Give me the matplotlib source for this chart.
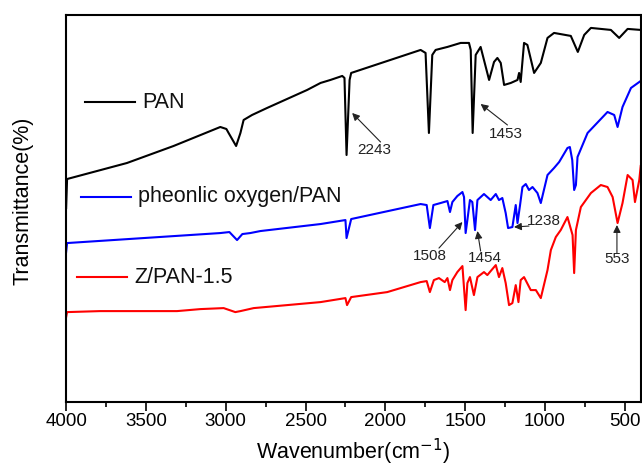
import matplotlib
matplotlib.use("Agg")
import matplotlib.pyplot as plt
from matplotlib.ticker import MultipleLocator

plt.rcParams['font.family'] = ['Liberation Sans', 'DejaVu Sans']

# wavenumber (cm-1) and offset transmittance (a.u.)
pan_wn = [4000, 3994, 3619, 3327, 3034, 2996, 2982, 2935, 2908, 2888, 2835, 2741,
          2490, 2406, 2344, 2270, 2256, 2243, 2224, 2214, 1779, 1748, 1727, 1706,
          1685, 1611, 1528, 1476, 1465, 1453, 1434, 1403, 1350, 1319, 1298, 1277,
          1256, 1214, 1172, 1162, 1152, 1131, 1110, 1068, 1026, 984, 943, 838, 794,
          754, 712, 587, 535, 482, 400]
pan_t = [194, 223, 239, 256, 275, 273, 269, 256, 269, 282, 287, 294,
         312, 319, 322, 326, 324, 247, 322, 329, 352, 349, 269, 347,
         352, 355, 359, 359, 352, 269, 347, 355, 322, 340, 344, 339,
         317, 319, 322, 329, 320, 359, 357, 329, 339, 364, 369, 366, 350,
         367, 374, 372, 364, 373, 372]

po_wn = [4000, 3994, 3034, 2977, 2929, 2896, 2846, 2783, 2406, 2250, 2243, 2214,
         1779, 1741, 1721, 1699, 1654, 1611, 1595, 1580, 1549, 1517, 1507, 1497,
         1486, 1470, 1455, 1438, 1423, 1382, 1361, 1340, 1308, 1288, 1267, 1246,
         1231, 1204, 1183, 1172, 1156, 1141, 1120, 1100, 1078, 1047, 1026, 984,
         943, 911, 859, 844, 829, 817, 806, 796, 733, 608, 566, 545, 514, 461, 400]
po_t = [150, 159, 169, 170, 162, 168, 169, 171, 178, 182, 164, 183,
        198, 197, 174, 197, 199, 201, 190, 200, 206, 210, 205, 169,
        182, 202, 200, 172, 202, 208, 205, 202, 208, 202, 204, 189,
        174, 175, 197, 179, 197, 215, 218, 212, 215, 209, 199, 227,
        234, 240, 254, 255, 242, 212, 217, 245, 269, 290, 287, 275, 295, 314, 321]

zpan_wn = [4000, 3994, 3787, 3305, 3159, 3013, 2940, 2908, 2825, 2615, 2406, 2250,
           2240, 2214, 1988, 1779, 1741, 1721, 1696, 1664, 1628, 1611, 1595, 1580,
           1549, 1517, 1497, 1486, 1470, 1445, 1423, 1382, 1361, 1340, 1308, 1288,
           1267, 1246, 1225, 1204, 1183, 1166, 1152, 1131, 1089, 1057, 1026, 984,
           963, 932, 901, 859, 827, 817, 806, 775, 712, 650, 608, 576, 545, 514,
           482, 451, 436, 409, 400]
zpan_t = [85, 90, 91, 91, 93, 94, 90, 91, 94, 97, 100, 104,
          97, 105, 110, 120, 121, 110, 122, 124, 120, 124, 112, 122,
          130, 136, 92, 119, 125, 107, 125, 130, 127, 131, 137, 125,
          134, 119, 97, 99, 117, 100, 122, 125, 112, 112, 104, 132,
          152, 165, 172, 185, 167, 129, 172, 195, 209, 217, 215, 205, 179, 199,
          227, 222, 200, 222, 236]

series_names = ['PAN', 'pheonlic oxygen/PAN', 'Z/PAN-1.5']
series_colors = ['black', '#0000ff', '#ff0000']

# peak labels: text, text position, arrow tail, arrow tip
peak_labels = ['2243', '1453', '1508', '1454', '1238', '553']
peak_text_xy = [(2068, 252), (1244, 268), (1718, 146), (1376, 144), (1007, 181), (547, 143)]
peak_tail_xy = [(2030, 260), (1235, 277), (1664, 154), (1403, 151), (1100, 176), (549, 149)]
peak_tip_xy = [(2208, 289), (1403, 298), (1517, 180), (1423, 171), (1194, 175), (549, 177)]

fig = plt.figure(figsize=(6.42, 4.66), dpi=100)
ax = fig.add_axes([0.103, 0.137, 0.895, 0.831])

curves = [(pan_wn, pan_t), (po_wn, po_t), (zpan_wn, zpan_t)]
for (x, y), c in zip(curves, series_colors):
    ax.plot(x, y, color=c, lw=1.5, solid_joinstyle='round')

ax.set_xlim(4000, 400)
ax.set_ylim(0, 387)

for lab, txy, tail, tip in zip(peak_labels, peak_text_xy, peak_tail_xy, peak_tip_xy):
    ax.annotate('', xy=tip, xytext=tail,
                arrowprops=dict(arrowstyle='-|>', color='#222222', lw=0.8,
                                mutation_scale=11, shrinkA=0, shrinkB=0))
    ax.text(txy[0], txy[1], lab, fontsize=11, color='#222222',
            ha='center', va='center')

# legend drawn next to each curve
leg_y = [0.775, 0.53, 0.323]
leg_x0 = [0.033, 0.026, 0.019]
for name, c, ly, lx in zip(series_names, series_colors, leg_y, leg_x0):
    ax.plot([lx, lx + 0.087], [ly, ly], color=c, lw=1.5, transform=ax.transAxes)
    ax.text(lx + 0.099, ly, name, fontsize=15.5, color='#111111',
            transform=ax.transAxes, ha='left', va='center')

ax.xaxis.set_major_locator(MultipleLocator(500))
ax.xaxis.set_minor_locator(MultipleLocator(250))
ax.tick_params(axis='x', which='major', direction='out', length=6.8, width=1.2,
               labelsize=13.5, pad=1)
ax.tick_params(axis='x', which='minor', direction='out', length=3.6, width=1.2)
ax.set_yticks([])
for s in ax.spines.values():
    s.set_linewidth(1.5)

ax.set_xlabel('Wavenumber(cm$^{-1}$)', fontsize=15.5)
ax.set_ylabel('Transmittance(%)', fontsize=15.5)
ax.xaxis.set_label_coords(0.5, -0.09)
ax.yaxis.set_label_coords(-0.057, 0.52)

fig.savefig('out.png', dpi=100)
